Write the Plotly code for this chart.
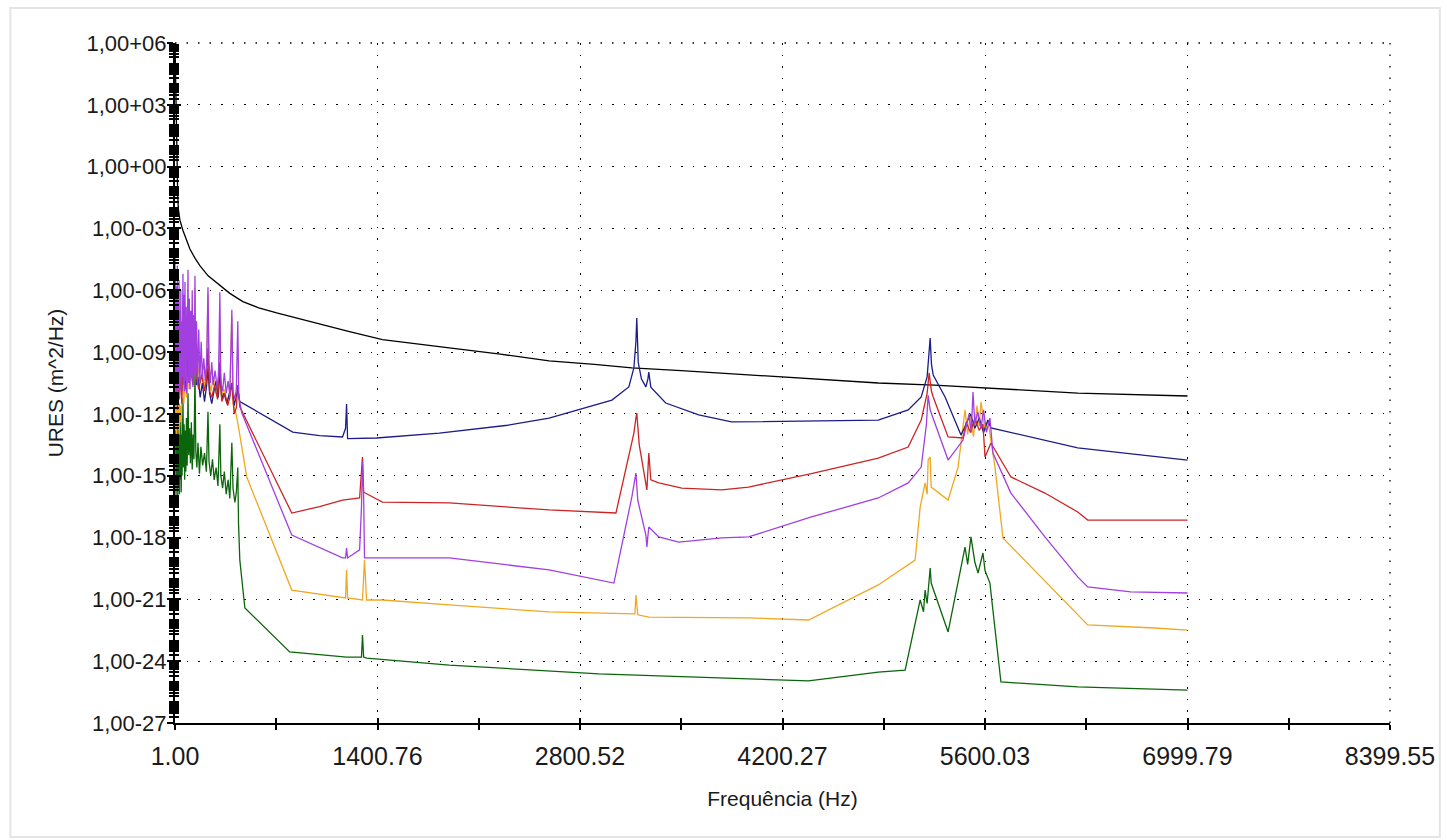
import plotly.graph_objects as go

# ---------------- data (y values are log10 readings) ----------------
x_tick_vals = [1.00, 1400.76, 2800.52, 4200.27, 5600.03, 6999.79, 8399.55]
x_tick_text = ["1.00", "1400.76", "2800.52", "4200.27", "5600.03", "6999.79", "8399.55"]
y_tick_exp = [6, 3, 0, -3, -6, -9, -12, -15, -18, -21, -24, -27]
y_tick_text = ["1,00+06", "1,00+03", "1,00+00", "1,00-03", "1,00-06", "1,00-09",
               "1,00-12", "1,00-15", "1,00-18", "1,00-21", "1,00-24", "1,00-27"]

black_f = [1, 5, 10, 15, 20, 25, 35, 56, 80, 104, 140, 173, 230, 291, 380, 470, 580, 704,
           840, 980, 1200, 1435, 1650, 1897, 2250, 2587, 2900, 3159, 3500, 3966, 4400, 4862,
           5250, 5620, 6241, 7000]
black_log = [6, 4, 1.5, -0.5, -1.5, -2.1, -2.6, -3.1, -3.6, -4.0, -4.45, -4.8, -5.3, -5.65,
             -6.15, -6.55, -6.85, -7.1, -7.35, -7.6, -8.0, -8.4, -8.6, -8.8, -9.1, -9.43,
             -9.6, -9.77, -9.9, -10.11, -10.3, -10.5, -10.6, -10.74, -10.99, -11.13]

blue_f = [1, 5, 9, 14, 19, 24, 30, 36, 42, 48, 56, 63, 70, 78, 91, 100, 110, 120, 130, 139,
          150, 160, 175, 190, 205, 220, 229, 240, 255, 270, 285, 300, 311, 325, 340, 360, 380,
          394, 410, 425, 435, 449, 587, 815, 1000, 1159, 1180, 1187, 1194, 1394, 1828, 2300,
          2587, 3021, 3138, 3173, 3187, 3193, 3203, 3225, 3256, 3270, 3276, 3290, 3393, 3621,
          3848, 4400, 4862, 5069, 5159, 5200, 5214, 5221, 5230, 5242, 5324, 5434, 5469, 5500,
          5530, 5560, 5590, 5620, 5641, 6241, 7000]
blue_log = [-5.0, -10.5, -6.5, -10.8, -7.5, -11.0, -8.5, -10.6, -9.0, -10.9, -8.2, -10.4, -9.5,
            -10.8, -8.8, -10.5, -9.2, -9.8, -9.0, -9.6, -10.6, -10.2, -11.2, -10.5, -11.4,
            -10.6, -9.8, -11.0, -11.5, -10.9, -10.4, -11.2, -10.0, -11.3, -11.0, -11.5, -10.9,
            -10.5, -11.6, -11.2, -10.8, -11.4, -11.96, -12.88, -13.05, -13.12, -12.7, -11.52,
            -13.2, -13.17, -12.93, -12.55, -12.20, -11.33, -10.69, -9.77, -8.5, -7.35, -9.5,
            -10.3, -10.69, -10.3, -9.97, -10.7, -11.47, -12.05, -12.39, -12.35, -12.30, -11.81,
            -11.18, -10.2, -9.0, -8.32, -9.6, -10.11, -11.18, -13.02, -12.5, -12.0, -12.7,
            -12.2, -12.9, -12.30, -12.68, -13.65, -14.24]

red_f = [1, 6, 12, 18, 25, 32, 40, 48, 56, 62, 72, 82, 91, 98, 110, 125, 139, 148, 165, 185,
         205, 220, 229, 240, 255, 275, 295, 311, 325, 345, 365, 380, 394, 410, 425, 435, 449,
         808, 1000, 1159, 1277, 1290, 1297, 1305, 1435, 1897, 2587, 3049, 3173, 3187, 3193,
         3210, 3242, 3263, 3276, 3290, 3345, 3504, 3780, 3966, 4400, 4862, 5069, 5159, 5200,
         5214, 5230, 5242, 5345, 5448, 5470, 5500, 5530, 5560, 5586, 5600, 5641, 5779, 6014,
         6241, 6310, 7000]
red_log = [-9.0, -11.6, -8.6, -11.8, -9.3, -11.2, -9.8, -11.5, -7.0, -10.6, -9.6, -11.0, -7.3,
           -10.4, -9.8, -10.6, -7.6, -10.2, -10.8, -10.1, -10.9, -10.3, -8.8, -10.9, -11.2,
           -10.6, -11.3, -9.5, -11.4, -11.0, -11.6, -11.2, -10.5, -12.0, -11.7, -10.6, -11.66,
           -16.81, -16.5, -16.18, -16.08, -15.0, -14.09, -15.8, -16.28, -16.32, -16.66, -16.81,
           -12.93, -12.2, -11.96, -13.5, -14.96, -15.69, -13.90, -15.2, -15.35, -15.60, -15.69,
           -15.55, -14.9, -14.14, -13.61, -12.30, -11.0, -10.01, -10.9, -11.18, -13.12, -13.17,
           -12.4, -12.9, -12.2, -12.8, -12.5, -14.09, -13.41, -15.06, -15.84, -16.76, -17.15,
           -17.15]

purple_f = [1, 3, 5, 8, 11, 14, 17, 20, 23, 26, 29, 32, 35, 38, 41, 44, 47, 50, 53, 56, 59,
            62, 66, 70, 74, 78, 82, 86, 91, 95, 100, 105, 110, 115, 120, 125, 130, 135, 139,
            144, 150, 157, 165, 173, 182, 190, 200, 210, 220, 229, 236, 245, 255, 265, 278,
            292, 302, 311, 318, 330, 342, 355, 368, 380, 394, 402, 415, 425, 435, 442, 463,
            808, 1159, 1180, 1187, 1194, 1277, 1290, 1297, 1305, 1311, 1332, 1897, 2587, 3035,
            3159, 3180, 3187, 3200, 3256, 3263, 3276, 3345, 3483, 3780, 3966, 4400, 4862, 5069,
            5159, 5195, 5207, 5221, 5345, 5448, 5470, 5490, 5505, 5517, 5530, 5550, 5572, 5590,
            5610, 5634, 5655, 5779, 6014, 6241, 6310, 6607, 7000]
purple_log = [-4.4, -10.5, -5.0, -11.2, -5.8, -10.6, -4.8, -11.0, -6.5, -10.8, -5.5, -11.3,
              -7.0, -10.4, -6.0, -10.9, -7.5, -10.2, -6.8, -5.2, -10.6, -6.2, -10.9, -5.6,
              -10.4, -6.8, -11.0, -5.9, -5.0, -10.5, -6.4, -10.8, -7.0, -10.2, -6.0, -10.7,
              -7.2, -10.1, -5.3, -10.3, -7.5, -10.6, -7.9, -10.4, -8.5, -10.2, -9.3, -10.4,
              -9.4, -5.85, -9.6, -10.5, -9.5, -10.6, -9.9, -10.7, -10.2, -6.1, -10.5, -10.9,
              -10.0, -11.0, -10.4, -11.1, -6.95, -10.9, -11.3, -10.8, -7.5, -11.2, -11.96,
              -17.88, -18.99, -18.99, -18.51, -18.99, -18.60, -16.5, -14.3, -16.0, -18.99,
              -18.99, -18.99, -19.57, -20.21, -16.03, -15.2, -14.87, -16.2, -17.88, -18.46,
              -17.49, -17.97, -18.22, -18.02, -17.97, -17.0, -16.08, -15.35, -14.58, -12.5,
              -11.1, -11.81, -14.24, -13.27, -12.6, -12.0, -12.9, -10.94, -12.5, -11.9, -12.7,
              -11.8, -12.9, -12.2, -13.90, -15.84, -17.97, -19.91, -20.40, -20.64, -20.69]

orange_f = [1, 4, 8, 12, 16, 20, 25, 30, 36, 42, 48, 56, 62, 70, 80, 91, 98, 110, 125, 139,
            146, 160, 175, 190, 205, 220, 229, 237, 250, 265, 280, 295, 311, 320, 340, 360,
            380, 394, 402, 420, 435, 497, 808, 1159, 1180, 1187, 1194, 1297, 1311, 1325, 1435,
            1897, 2587, 3180, 3187, 3200, 3276, 3966, 4380, 4862, 5117, 5152, 5186, 5200, 5207,
            5221, 5228, 5345, 5414, 5462, 5480, 5500, 5520, 5545, 5560, 5572, 5600, 5620, 5669,
            5724, 6241, 6310, 6772, 7000]
orange_log = [-11.6, -12.8, -11.2, -13.2, -11.8, -12.6, -11.4, -13.0, -11.6, -12.4, -11.3,
              -7.6, -11.5, -10.4, -11.2, -8.2, -10.8, -9.9, -10.6, -5.9, -10.4, -9.7, -10.5,
              -9.9, -10.7, -10.0, -6.2, -10.4, -10.9, -10.2, -11.0, -10.6, -8.8, -11.2, -10.8,
              -11.4, -11.0, -7.3, -11.5, -11.9, -12.44, -15.06, -20.55, -20.93, -20.93, -19.57,
              -20.93, -21.03, -19.09, -21.03, -21.03, -21.27, -21.61, -21.7, -20.79, -21.75,
              -21.86, -21.90, -22.0, -20.30, -19.09, -16.52, -15.35, -15.9, -14.24, -14.09,
              -15.55, -16.18, -14.58, -11.81, -13.0, -12.0, -13.1, -11.6, -12.6, -11.42, -12.8,
              -12.30, -14.58, -18.02, -21.76, -22.24, -22.39, -22.49]

green_f = [1, 3, 5, 8, 11, 14, 17, 20, 23, 26, 29, 32, 35, 38, 41, 44, 47, 50, 53, 56, 60,
           64, 68, 72, 76, 80, 85, 91, 96, 102, 108, 114, 120, 126, 132, 139, 145, 152, 160,
           170, 180, 192, 205, 218, 229, 236, 248, 260, 272, 285, 298, 311, 318, 330, 342, 355,
           368, 380, 394, 402, 415, 425, 435, 440, 449, 484, 794, 1187, 1290, 1297, 1305, 1325,
           1897, 2931, 4380, 4862, 5048, 5152, 5175, 5186, 5200, 5221, 5228, 5345, 5462, 5480,
           5503, 5530, 5552, 5586, 5600, 5634, 5710, 6241, 7000]
green_log = [-12.2, -16.0, -11.6, -16.2, -12.4, -15.4, -11.8, -16.1, -12.8, -15.6, -11.5, -15.9,
             -12.6, -15.2, -12.0, -15.8, -13.0, -15.0, -11.6, -11.2, -14.6, -12.5, -15.2, -12.8,
             -14.8, -12.2, -14.5, -11.0, -14.0, -12.7, -14.4, -12.4, -14.7, -13.0, -14.2, -10.0,
             -13.8, -14.6, -13.4, -14.9, -13.6, -14.5, -13.9, -14.8, -11.9, -14.3, -15.0, -14.2,
             -15.2, -14.6, -15.5, -12.5, -15.0, -15.6, -14.8, -15.9, -15.2, -16.1, -13.4, -15.6,
             -16.3, -15.8, -14.6, -17.3, -19.09, -21.42, -23.55, -23.80, -23.8, -22.73, -23.8,
             -23.85, -24.19, -24.62, -24.96, -24.53, -24.43, -21.03, -21.6, -20.55, -21.2,
             -19.48, -20.21, -22.58, -18.46, -19.3, -17.97, -19.2, -19.72, -18.75, -19.6, -20.21,
             -25.01, -25.25, -25.40]

series = [
    ("black", black_f, black_log, "#000000"),
    ("green", green_f, green_log, "#0b650b"),
    ("orange", orange_f, orange_log, "#f0a820"),
    ("blue", blue_f, blue_log, "#1c1c8a"),
    ("red", red_f, red_log, "#cc2424"),
    ("purple", purple_f, purple_log, "#a23fe0"),
]

# ---------------- figure ----------------
fig = go.Figure()
for name, f, lg, col in series:
    fig.add_trace(go.Scatter(x=f, y=[10 ** v for v in lg], mode="lines", name=name,
                             line=dict(color=col, width=1.3), showlegend=False,
                             hoverinfo="skip"))

FONT = "Liberation Sans, Arial, sans-serif"
xtickfont = dict(family=FONT, size=25, color="#1a1a1a")
ytickfont = dict(family=FONT, size=22, color="#1a1a1a")
y_tick_vals = [10.0 ** e for e in y_tick_exp]
x_minor_step = (x_tick_vals[1] - x_tick_vals[0]) / 2

fig.update_layout(
    width=1447, height=840,
    margin=dict(l=175, r=54, t=43, b=117),
    paper_bgcolor="white", plot_bgcolor="white",
    font=dict(family=FONT, color="#1a1a1a"),
    xaxis=dict(
        range=[x_tick_vals[0], x_tick_vals[-1]], tickmode="array",
        tickvals=x_tick_vals, ticktext=x_tick_text, tickfont=xtickfont,
        showline=True, linecolor="black", linewidth=2,
        ticks="outside", ticklen=5, tickwidth=1.5, tickcolor="black",
        ticklabelstandoff=5,
        showgrid=True, gridcolor="black", gridwidth=1.3, griddash="1.5px,10px",
        zeroline=False,
        minor=dict(tick0=x_tick_vals[0], dtick=x_minor_step,
                   ticks="outside", ticklen=5, tickwidth=1.5, tickcolor="black",
                   showgrid=False),
        title=dict(text="Frequência (Hz)", font=dict(family=FONT, size=21), standoff=22),
    ),
    yaxis=dict(
        type="log", range=[y_tick_exp[-1], y_tick_exp[0]], tickmode="array",
        tickvals=y_tick_vals, ticktext=y_tick_text, tickfont=ytickfont,
        showline=True, linecolor="black", linewidth=2,
        ticks="outside", ticklen=6, tickwidth=1.5, tickcolor="black",
        ticklabelstandoff=-4,
        showgrid=True, gridcolor="black", gridwidth=1.3, griddash="1.5px,10px",
        zeroline=False,
        minor=dict(dtick="D1", ticks="outside", ticklen=4, tickwidth=1.5,
                   tickcolor="black", showgrid=False),
        title=dict(text="URES (m^2/Hz)", font=dict(family=FONT, size=21), standoff=17),
    ),
    xaxis2=dict(
        overlaying="x", range=[x_tick_vals[0], x_tick_vals[-1]], tickmode="array",
        tickvals=x_tick_vals, showticklabels=False, showgrid=False, zeroline=False,
        ticks="inside", ticklen=5, tickwidth=1.5, tickcolor="black", side="bottom",
        minor=dict(tick0=x_tick_vals[0], dtick=x_minor_step,
                   ticks="inside", ticklen=5, tickwidth=1.5, tickcolor="black"),
    ),
    yaxis2=dict(
        overlaying="y", type="log", range=[y_tick_exp[-1], y_tick_exp[0]], tickmode="array",
        tickvals=y_tick_vals, showticklabels=False, showgrid=False, zeroline=False,
        ticks="inside", ticklen=6, tickwidth=1.5, tickcolor="black", side="left",
        minor=dict(dtick="D1", ticks="inside", ticklen=4, tickwidth=1.5, tickcolor="black"),
    ),
)

# invisible helper trace so that the overlay axes (inner tick marks) are drawn
fig.add_trace(go.Scatter(x=[x_tick_vals[0]], y=[y_tick_vals[0]], xaxis="x2", yaxis="y2",
                         mode="markers", marker=dict(opacity=0), showlegend=False,
                         hoverinfo="skip"))

# dotted grid along the top and right borders of the plot area
grid_line = dict(color="black", width=1.3, dash="1.5px,10px")
fig.add_shape(type="line", xref="paper", yref="paper", x0=0, x1=1, y0=1, y1=1, line=grid_line)
fig.add_shape(type="line", xref="paper", yref="paper", x0=1, x1=1, y0=0, y1=1, line=grid_line)

# light grey frame around the whole picture
fig.add_shape(type="rect", xref="paper", yref="paper",
              x0=-0.1355, x1=1.041, y0=-0.1676, y1=1.0515,
              line=dict(color="#e4e4e4", width=2), fillcolor="rgba(0,0,0,0)", layer="below")

fig.write_html("out.html", config={"displayModeBar": False},
               post_script="document.body.style.margin='0px';")
